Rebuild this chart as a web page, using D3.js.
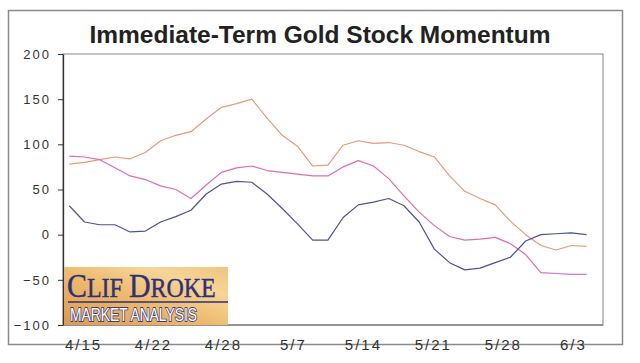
<!DOCTYPE html>
<html>
<head>
<meta charset="utf-8">
<script src="https://cdn.jsdelivr.net/npm/d3@7"></script>
<style>
  body { margin: 0; background: #fff; }
  svg { display: block; }
</style>
</head>
<body>
<div id="chart"></div>
<script>
// Chart values (one point per trading day)
const orangeVals = [78, 80, 83, 86, 84, 91, 104, 110, 114, 128, 141, 145, 150, 129, 110, 98, 76, 77,
    99, 104, 101, 102, 99, 92, 86, 65, 48, 40, 33, 15, 0, -12, -17, -12, -13];
const pinkVals = [87, 86, 83, 74, 65, 61, 54, 50, 40, 55, 69, 74, 76, 71, 69, 67, 65, 65,
    75, 82, 76, 62, 43, 25, 10, -2, -6, -5, -3, -10, -22, -42, -43, -44, -44];
const blueVals = [32, 14, 11, 11, 3, 4, 14, 20, 27, 45, 56, 59, 58, 45, 29, 12, -6, -6,
    19, 33, 36, 40, 32, 14, -16, -31, -39, -37, -31, -25, -7, 0, 1, 2, 0];
const dateLabels = ["4/15", "4/22", "4/28", "5/7", "5/14", "5/21", "5/28", "6/3"];
const yTicks = [-100, -50, 0, 50, 100, 150, 200];

const W = 640, H = 363;
const plot = { left: 63, right: 603, top: 54, bottom: 325 };

const svg = d3.select("#chart").append("svg")
    .attr("width", W)
    .attr("height", H);

// outer frame
svg.append("rect")
    .attr("x", 8.5).attr("y", 10.5)
    .attr("width", 614).attr("height", 334)
    .attr("fill", "#fff")
    .attr("stroke", "#8a8a8a")
    .attr("stroke-width", 1.5);

// title
svg.append("text")
    .attr("x", 320).attr("y", 43)
    .attr("text-anchor", "middle")
    .attr("font-family", "Liberation Sans, Arial, sans-serif")
    .attr("font-weight", "bold")
    .attr("font-size", 24.5)
    .attr("fill", "#222")
    .text("Immediate-Term Gold Stock Momentum");

// scales
const x = d3.scaleLinear()
    .domain([0, orangeVals.length - 1])
    .range([69.3, 586.5]);

const y = d3.scaleLinear()
    .domain([-100, 200])
    .range([plot.bottom, plot.top]);

// date labels spread evenly, not tied to points
const xLab = d3.scalePoint()
    .domain(dateLabels)
    .range([x(0.9), x(33.1)]);

// plot frame (light grey)
svg.append("rect")
    .attr("x", plot.left).attr("y", plot.top)
    .attr("width", plot.right - plot.left)
    .attr("height", plot.bottom - plot.top)
    .attr("fill", "none")
    .attr("stroke", "#999")
    .attr("stroke-width", 1.2);

// bottom edge a bit darker
svg.append("line")
    .attr("x1", plot.left).attr("x2", plot.right)
    .attr("y1", plot.bottom).attr("y2", plot.bottom)
    .attr("stroke", "#666")
    .attr("stroke-width", 1.2);

// y axis
const yAxis = svg.append("g")
    .attr("transform", `translate(${plot.left},0)`)
    .call(d3.axisLeft(y).tickValues(yTicks).tickSize(5).tickSizeOuter(0).tickPadding(7));
yAxis.select(".domain").attr("stroke", "#333").attr("stroke-width", 1.3);
yAxis.selectAll(".tick line").attr("stroke", "#333");
yAxis.selectAll("text")
    .attr("font-family", "Liberation Sans, Arial, sans-serif")
    .attr("font-size", 13)
    .attr("letter-spacing", "2px")
    .attr("fill", "#333");

// x axis labels
const xAxis = svg.append("g")
    .attr("transform", `translate(0,${plot.bottom})`)
    .call(d3.axisBottom(xLab).tickSize(0).tickPadding(14));
xAxis.select(".domain").remove();
xAxis.selectAll("text")
    .attr("font-family", "Liberation Sans, Arial, sans-serif")
    .attr("font-size", 15)
    .attr("letter-spacing", "2px")
    .attr("fill", "#333");

// lines
const line = d3.line()
    .x((d, i) => x(i))
    .y(d => y(d));

const series = [
    { vals: orangeVals, color: "#e89a7c" },
    { vals: pinkVals, color: "#e06cb4" },
    { vals: blueVals, color: "#50509e" }
];

svg.selectAll(".series")
    .data(series)
    .enter()
    .append("path")
    .attr("class", "series")
    .attr("d", d => line(d.vals))
    .attr("fill", "none")
    .attr("stroke", d => d.color)
    .attr("stroke-width", 1.2)
    .attr("stroke-linejoin", "round");

// logo block
const defs = svg.append("defs");
const grad = defs.append("linearGradient")
    .attr("id", "gold")
    .attr("x1", "0%").attr("y1", "100%")
    .attr("x2", "100%").attr("y2", "0%");
grad.append("stop").attr("offset", "0%").attr("stop-color", "#dc9a4e");
grad.append("stop").attr("offset", "45%").attr("stop-color", "#eeb96e");
grad.append("stop").attr("offset", "75%").attr("stop-color", "#f6d598");
grad.append("stop").attr("offset", "100%").attr("stop-color", "#f0c47e");

const logo = svg.append("g");
logo.append("rect")
    .attr("x", 64).attr("y", 267)
    .attr("width", 164).attr("height", 58)
    .attr("fill", "url(#gold)");

// small-caps style name, squeezed horizontally
const name = logo.append("text")
    .attr("transform", "translate(67,296.5) scale(0.905,1)")
    .attr("font-family", "Liberation Serif, Times New Roman, serif")
    .attr("fill", "#2e3176")
    .attr("stroke", "#2e3176")
    .attr("stroke-width", 0.4);
name.append("tspan").attr("font-size", 33).text("C");
name.append("tspan").attr("font-size", 26.5).text("LIF ");
name.append("tspan").attr("font-size", 33).text("D");
name.append("tspan").attr("font-size", 26.5).text("ROKE");

logo.append("line")
    .attr("x1", 68).attr("x2", 228)
    .attr("y1", 302).attr("y2", 302)
    .attr("stroke", "#2e3176")
    .attr("stroke-width", 1.6);

logo.append("text")
    .attr("x", 70).attr("y", 321)
    .attr("font-family", "Liberation Sans Narrow, Liberation Sans, Arial, sans-serif")
    .attr("font-size", 19)
    .attr("textLength", 127)
    .attr("lengthAdjust", "spacingAndGlyphs")
    .attr("fill", "#fff")
    .attr("stroke", "#3a3c7a")
    .attr("stroke-width", 1.8)
    .attr("paint-order", "stroke")
    .text("MARKET ANALYSIS");
</script>
</body>
</html>
